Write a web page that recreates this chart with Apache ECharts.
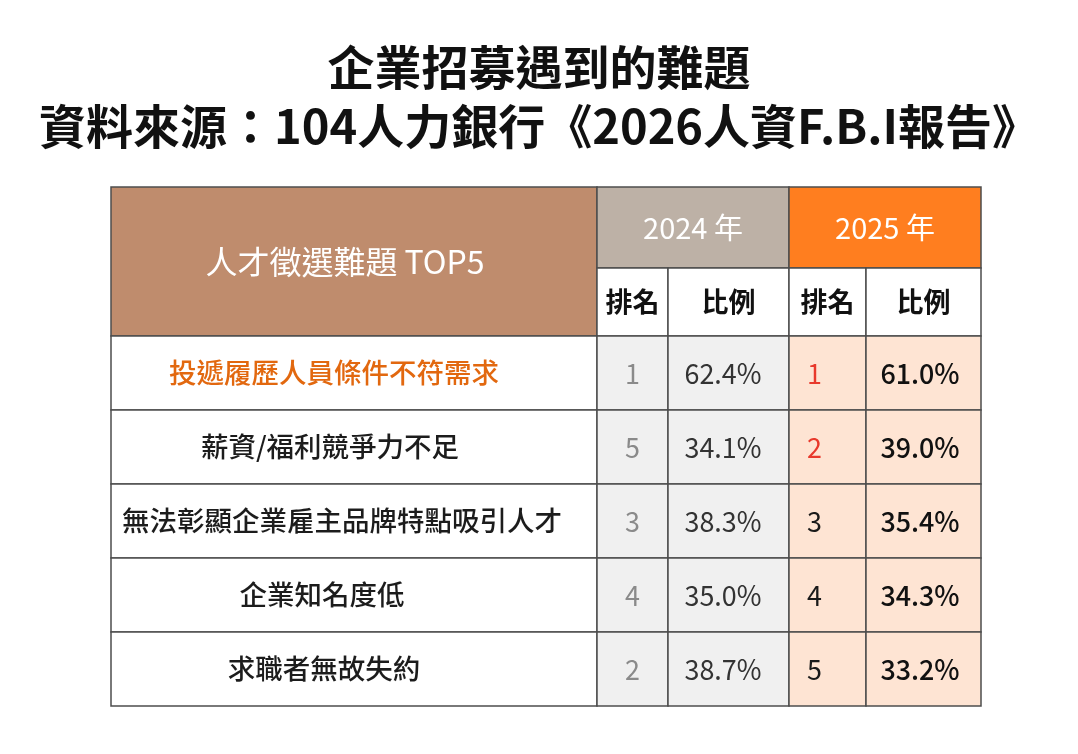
<!DOCTYPE html>
<html>
<head>
<meta charset="utf-8">
<script src="https://cdn.jsdelivr.net/npm/echarts@6.0.0/dist/echarts.min.js"></script>
<style>
html, body { margin: 0; padding: 0; background: #fff; }
#chart { width: 1078px; height: 754px; }
</style>
</head>
<body>
<div id="chart"></div>
<script>
const titleLines = ['企業招募遇到的難題', '資料來源：104人力銀行《2026人資F.B.I報告》'];
const headerTitle = '人才徵選難題 TOP5';
const years = ['2024 年', '2025 年'];
const subHeaders = ['排名', '比例'];
const problems = [
	'投遞履歷人員條件不符需求',
	'薪資/福利競爭力不足',
	'無法彰顯企業雇主品牌特點吸引人才',
	'企業知名度低',
	'求職者無故失約',
];
const rank2024 = [1, 5, 3, 4, 2];
const pct2024 = [62.4, 34.1, 38.3, 35.0, 38.7];
const rank2025 = [1, 2, 3, 4, 5];
const pct2025 = [61.0, 39.0, 35.4, 34.3, 33.2];

// table layout, in axis units (1 unit = 1px)
const colEdges = [0, 486, 557, 678, 755, 870];
const rowEdges = [0, 81, 149, 223, 297, 371, 445, 519];
const labelCx = [223, 219, 231, 211, 213];
const FONT = '"Noto Sans CJK TC", "Noto Sans CJK SC", sans-serif';

const cells = [];
function addCell(c0, c1, r0, r1, text, style) {
	cells.push({value: [colEdges[c0], rowEdges[r0], colEdges[c1], rowEdges[r1]], text, ...style});
}

addCell(0, 1, 0, 2, headerTitle, {fill: '#BF8C6D', color: '#fff', size: 32, tx: 234});
addCell(1, 3, 0, 1, years[0], {fill: '#BDB1A6', color: '#fff', size: 29});
addCell(3, 5, 0, 1, years[1], {fill: '#FF7E1F', color: '#fff', size: 29});
[1, 2, 3, 4].forEach((c, i) => {
	addCell(c, c + 1, 1, 2, subHeaders[i % 2], {fill: '#fff', color: '#111', size: 27, weight: 'bold'});
});
problems.forEach((p, i) => {
	const r = i + 2;
	addCell(0, 1, r, r + 1, p, {fill: '#fff', color: i === 0 ? '#E2680F' : '#1c1c1c', size: 27.5, weight: 500, tx: labelCx[i]});
	addCell(1, 2, r, r + 1, String(rank2024[i]), {fill: '#F0F0F0', color: '#8a8a8a', size: 28, sx: 0.96});
	addCell(2, 3, r, r + 1, pct2024[i].toFixed(1) + '%', {fill: '#F0F0F0', color: '#333', size: 28, sx: 0.96, tx: 612});
	addCell(3, 4, r, r + 1, String(rank2025[i]), {fill: '#FEE4D3', color: rank2025[i] <= 2 ? '#E8392C' : '#1a1a1a', size: 28, sx: 0.96, tx: 696, align: 'left'});
	addCell(4, 5, r, r + 1, pct2025[i].toFixed(1) + '%', {fill: '#FEE4D3', color: '#111', size: 28, sx: 0.96, weight: 500, tx: 809});
});

const chart = echarts.init(document.getElementById('chart'));
chart.setOption({
	animation: false,
	backgroundColor: '#fff',
	title: titleLines.map((t, i) => ({
		text: t,
		left: 'center',
		top: 44 + i * 59,
		padding: 0,
		textStyle: {fontSize: 47, fontWeight: 'bold', color: '#111', fontFamily: FONT, lineHeight: 47},
	})),
	grid: {left: 111, top: 187, width: 870, height: 519},
	xAxis: {type: 'value', min: 0, max: 870, show: false},
	yAxis: {type: 'value', min: 0, max: 519, inverse: true, show: false},
	series: [{
		type: 'custom',
		coordinateSystem: 'cartesian2d',
		data: cells.map((c) => c.value),
		renderItem: (params, api) => {
			const c = cells[params.dataIndex];
			const p0 = api.coord([api.value(0), api.value(1)]);
			const p1 = api.coord([api.value(2), api.value(3)]);
			const x = Math.min(p0[0], p1[0]);
			const y = Math.min(p0[1], p1[1]);
			const w = Math.abs(p1[0] - p0[0]);
			const h = Math.abs(p1[1] - p0[1]);
			const tx = c.tx != null ? api.coord([c.tx, 0])[0] : x + w / 2;
			return {
				type: 'group',
				children: [
					{type: 'rect', shape: {x, y, width: w, height: h}, style: {fill: c.fill, stroke: '#4d4d4d', lineWidth: 1.5}},
					{type: 'text', x: tx, y: y + h / 2, scaleX: c.sx || 1, style: {
						text: c.text, fill: c.color, fontSize: c.size, fontFamily: FONT,
						fontWeight: c.weight || 'normal', align: c.align || 'center', verticalAlign: 'middle',
					}},
				],
			};
		},
	}],
});
</script>
</body>
</html>
